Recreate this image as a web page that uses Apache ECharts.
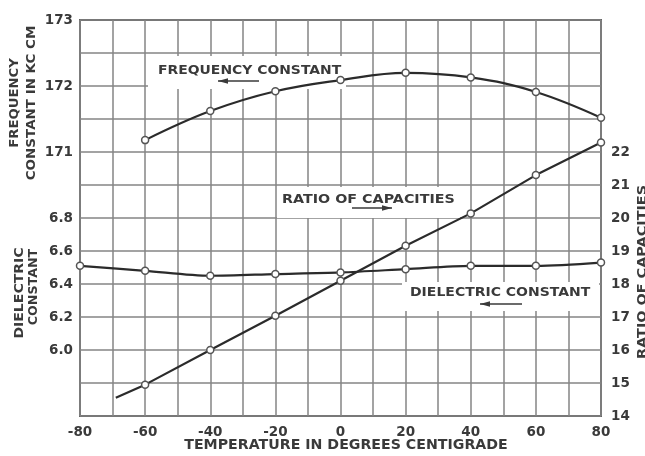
<!DOCTYPE html>
<html>
<head>
<meta charset="utf-8">
<script src="https://cdn.jsdelivr.net/npm/echarts@6/dist/echarts.min.js"></script>
<style>
html, body { margin: 0; padding: 0; background: #fff; }
#chart { width: 645px; height: 456px; }
</style>
</head>
<body>
<div id="chart"></div>
<script>
// values
const temps = [-80, -60, -40, -20, 0, 20, 40, 60, 80]
const freqTemps = [-60, -40, -20, 0, 20, 40, 60, 80]
const freqValues = [171.18, 171.62, 171.92, 172.09, 172.2, 172.13, 171.91, 171.52]
const dielectricValues = [6.51, 6.48, 6.45, 6.46, 6.47, 6.49, 6.51, 6.51, 6.53]
const ratioTemps = [-69, -60, -40, -20, 0, 20, 40, 60, 80]
const ratioValues = [14.55, 14.95, 16.0, 17.04, 18.1, 19.16, 20.14, 21.3, 22.29]

const xTickLabels = ['-80', '-60', '-40', '-20', '0', '20', '40', '60', '80']
const freqTickLabels = ['171', '172', '173']
const dielectricTickLabels = ['6.0', '6.2', '6.4', '6.6', '6.8']
const ratioTickLabels = ['14', '15', '16', '17', '18', '19', '20', '21', '22']

const ink = '#3a3a3a'
const font = 'DejaVu Sans'

const labelStyle = { color: ink, fontFamily: font, fontSize: 13.5, fontWeight: 'bold' }

const marker = {
    symbol: 'circle',
    symbolSize: 7,
    itemStyle: { color: '#fff', borderColor: '#555', borderWidth: 1.5 },
    lineStyle: { color: '#2b2b2b', width: 2.2 }
}

const rotText = (text, x, y, size, sx) => ({
    type: 'text', x, y, rotation: Math.PI / 2, scaleX: sx, z: 5,
    style: { text, fill: ink, font: `bold ${size}px "${font}"`, textAlign: 'center', textVerticalAlign: 'middle' }
})

const box = (x, y, w, h) => ({
    type: 'rect', z: 1, shape: { x, y, width: w, height: h },
    style: { fill: '#fff' }
})

const label = (text, x, y, size, sx) => ({
    type: 'text', x, y, scaleX: sx, z: 5,
    style: { text, fill: ink, font: `bold ${size}px "${font}"`, textAlign: 'left', textVerticalAlign: 'middle' }
})

const arrow = (x1, x2, y, dir) => {
    const tip = dir < 0 ? x1 : x2
    return [
        { type: 'line', z: 5, shape: { x1, y1: y, x2, y2: y }, style: { stroke: ink, lineWidth: 1.3 } },
        {
            type: 'polygon', z: 5,
            shape: { points: [[tip, y], [tip - dir * 10, y - 2.8], [tip - dir * 10, y + 2.8]] },
            style: { fill: ink }
        }
    ]
}

const chart = echarts.init(document.getElementById('chart'))

chart.setOption({
    animation: false,
    backgroundColor: '#fff',
    grid: {
        left: 80, right: 44, top: 20, bottom: 40,
        show: true, borderColor: '#555', borderWidth: 1.8
    },
    xAxis: {
        type: 'value', min: -80, max: 80, interval: 10,
        axisLine: { show: false }, axisTick: { show: false },
        splitLine: { lineStyle: { color: '#858585', width: 1.5 } },
        axisLabel: {
            ...labelStyle, margin: 9,
            formatter: v => xTickLabels.includes(String(v)) ? String(v) : ''
        }
    },
    yAxis: [
        {
            type: 'value', position: 'left', min: 167, max: 173, interval: 0.5,
            axisLine: { show: false }, axisTick: { show: false },
            splitLine: { lineStyle: { color: '#858585', width: 1.5 } },
            axisLabel: {
                ...labelStyle, margin: 7,
                formatter: v => freqTickLabels.includes(String(v)) ? String(v) : ''
            }
        },
        {
            type: 'value', position: 'left', min: 5.6, max: 8.0, interval: 0.2,
            axisLine: { show: false }, axisTick: { show: false }, splitLine: { show: false },
            axisLabel: {
                ...labelStyle, margin: 7,
                formatter: v => dielectricTickLabels.includes(v.toFixed(1)) ? v.toFixed(1) : ''
            }
        },
        {
            type: 'value', position: 'right', min: 14, max: 26, interval: 1,
            axisLine: { show: false }, axisTick: { show: false }, splitLine: { show: false },
            axisLabel: {
                ...labelStyle, margin: 10,
                formatter: v => ratioTickLabels.includes(String(v)) ? String(v) : ''
            }
        }
    ],
    series: [
        {
            name: 'Frequency constant', type: 'line', yAxisIndex: 0, smooth: 0.4, z: 3,
            ...marker,
            data: freqTemps.map((t, i) => [t, freqValues[i]])
        },
        {
            name: 'Dielectric constant', type: 'line', yAxisIndex: 1, smooth: 0.3, z: 3,
            ...marker,
            data: temps.map((t, i) => [t, dielectricValues[i]])
        },
        {
            name: 'Ratio of capacities', type: 'line', yAxisIndex: 2, z: 3,
            ...marker,
            data: ratioTemps.map((t, i) => i === 0
                ? { value: [t, ratioValues[i]], symbol: 'none' }
                : [t, ratioValues[i]])
        }
    ],
    graphic: [
        // axis titles
        rotText('FREQUENCY', 15, 103, 11.5, 1.15),
        rotText('CONSTANT IN KC CM', 32, 103, 11.5, 1.17),
        rotText('DIELECTRIC', 20, 293, 11.5, 1.22),
        rotText('CONSTANT', 34, 287, 11.5, 1.1),
        rotText('RATIO OF CAPACITIES', 643, 272, 12, 1.2),
        {
            type: 'text', x: 346, y: 445, scaleX: 1.05, z: 5,
            style: { text: 'TEMPERATURE IN DEGREES CENTIGRADE', fill: ink, font: `bold 13.5px "${font}"`, textAlign: 'center', textVerticalAlign: 'middle' }
        },
        // curve labels with white panels
        box(148, 56, 198, 33),
        label('FREQUENCY CONSTANT', 158, 71, 12, 1.16),
        ...arrow(218, 259, 81, -1),
        box(277, 187, 183, 31),
        label('RATIO OF CAPACITIES', 282, 200, 13, 1.1),
        ...arrow(352, 392, 208, 1),
        box(402, 282, 197, 29),
        label('DIELECTRIC CONSTANT', 410, 293, 12.5, 1.12),
        ...arrow(480, 522, 304, -1)
    ]
})
</script>
</body>
</html>
